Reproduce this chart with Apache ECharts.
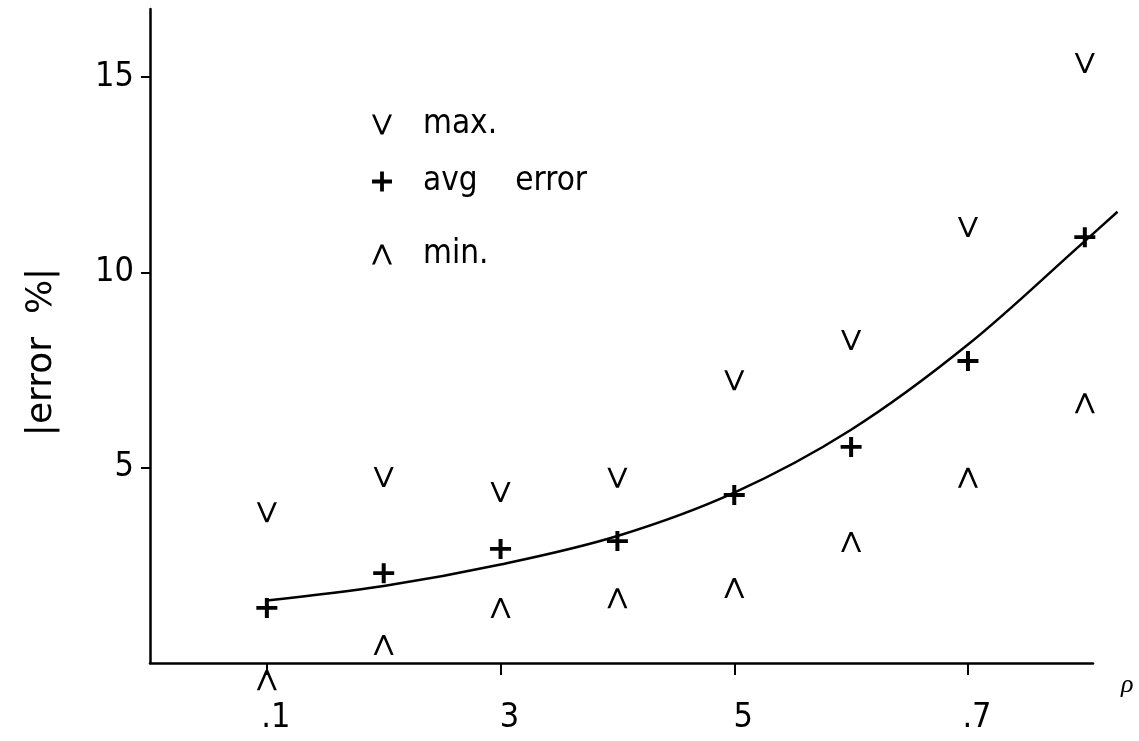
<!DOCTYPE html>
<html>
<head>
<meta charset="utf-8">
<title>|error %| versus rho</title>
<script src="https://cdn.jsdelivr.net/npm/echarts@6/dist/echarts.min.js"></script>
<style>
  html, body { margin: 0; padding: 0; background: #fff; }
  #chart { width: 1139px; height: 741px; }
</style>
</head>
<body>
<div id="chart"></div>
<script>
// rho values at which the error was measured
const rho = [0.1, 0.2, 0.3, 0.4, 0.5, 0.6, 0.7, 0.8];
// |error %| statistics per rho
const maxError = [3.86, 4.76, 4.38, 4.74, 7.24, 8.27, 11.16, 15.36];
const avgError = [1.41, 2.30, 2.92, 3.12, 4.30, 5.53, 7.73, 10.90];
const minError = [-0.44, 0.46, 1.41, 1.66, 1.92, 3.10, 4.74, 6.65];
// fitted trend curve through the averages
const fitRho = [0.1, 0.2, 0.3, 0.4, 0.5, 0.6, 0.7, 0.8, 0.828];
const fitError = [1.60, 1.97, 2.52, 3.25, 4.36, 5.97, 8.15, 10.8, 11.55];
// axis ticks and their printed labels
const yTicks = [5, 10, 15];
const xTicks = [0.1, 0.3, 0.5, 0.7];
const xTickLabels = ['.1', '3', '5', '.7'];

const FONT = '"DejaVu Sans Condensed", "DejaVu Sans", sans-serif';
const SYM_MAX = 'path://M0,0 L2.8,0 L10,16.8 L17.2,0 L20,0 L11.4,20 L8.6,20 Z';
const SYM_MIN = 'path://M0,20 L2.8,20 L10,3.2 L17.2,20 L20,20 L11.4,0 L8.6,0 Z';
const SYM_AVG = 'path://M8.1,0 H11.9 V8.1 H20 V11.9 H11.9 V20 H8.1 V11.9 H0 V8.1 H8.1 Z';

const pairs = (xs, ys) => xs.map((x, i) => [x, ys[i]]);

const legendBase = {
  orient: 'vertical',
  left: 372,
  padding: 0,
  itemWidth: 20,
  itemHeight: 20,
  selectedMode: false,
  itemStyle: { opacity: 1 },
  textStyle: { fontFamily: FONT, fontSize: 33, color: '#000', padding: [0, 0, 0, 26] }
};

const markStyle = { color: '#000', opacity: 1, borderWidth: 0 };

const chart = echarts.init(document.getElementById('chart'), null, { renderer: 'canvas' });
chart.setOption({
  backgroundColor: '#fff',
  animation: false,
  grid: { left: 150, right: 46, top: 9, bottom: 78, outerBoundsMode: 'none', containLabel: false },
  legend: [
    Object.assign({}, legendBase, { top: 108, data: ['max.'] }),
    Object.assign({}, legendBase, { top: 165, data: ['avg    error'] }),
    Object.assign({}, legendBase, { top: 238, data: ['min.'] })
  ],
  xAxis: {
    type: 'value',
    min: 0,
    max: 0.807,
    name: 'ρ',
    nameLocation: 'end',
    nameGap: 28,
    nameTextStyle: {
      fontFamily: '"Liberation Serif", "DejaVu Serif", serif',
      fontStyle: 'italic', fontSize: 26, color: '#000',
      verticalAlign: 'top', align: 'left', padding: [9, 0, 0, 0]
    },
    splitLine: { show: false },
    axisLine: { show: true, lineStyle: { color: '#000', width: 2.5 } },
    axisTick: { show: true, customValues: xTicks, length: 12, lineStyle: { color: '#000', width: 2 } },
    axisLabel: {
      customValues: xTicks,
      margin: 38,
      fontFamily: FONT, fontSize: 34, color: '#000',
      padding: [0, 0, 0, 18],
      formatter: v => {
        const i = xTicks.findIndex(t => Math.abs(t - v) < 1e-6);
        return i >= 0 ? xTickLabels[i] : '';
      }
    }
  },
  yAxis: {
    type: 'value',
    min: 0,
    max: 16.74,
    name: '|error  %|',
    nameLocation: 'middle',
    nameRotate: 90,
    nameGap: 90,
    nameTextStyle: { fontFamily: '"DejaVu Sans", sans-serif', fontSize: 36, color: '#000', padding: [0, 32, 0, 0] },
    splitLine: { show: false },
    axisLine: { show: true, lineStyle: { color: '#000', width: 2.5 } },
    axisTick: { show: true, customValues: yTicks, length: 9, lineStyle: { color: '#000', width: 2 } },
    axisLabel: {
      customValues: yTicks,
      margin: 16,
      fontFamily: FONT, fontSize: 34, color: '#000',
      formatter: v => String(v)
    }
  },
  series: [
    {
      // smooth trend curve; it runs slightly past the end of the rho axis
      name: 'trend',
      type: 'custom',
      data: pairs(fitRho, fitError),
      encode: { x: 0, y: 1 },
      clip: false,
      silent: true,
      z: 1,
      renderItem: (params, api) => {
        if (params.dataIndex !== 0) return null;
        const points = fitRho.map((x, i) => api.coord([x, fitError[i]]));
        return {
          type: 'polyline',
          shape: { points: points, smooth: 0.35 },
          style: { stroke: '#000', lineWidth: 2.5, fill: null }
        };
      }
    },
    {
      name: 'max.',
      type: 'scatter',
      data: pairs(rho, maxError),
      symbol: SYM_MAX,
      symbolSize: [20, 20],
      clip: false,
      itemStyle: markStyle,
      z: 3
    },
    {
      name: 'avg    error',
      type: 'scatter',
      data: pairs(rho, avgError),
      symbol: SYM_AVG,
      symbolSize: [21, 20],
      clip: false,
      itemStyle: markStyle,
      z: 3
    },
    {
      name: 'min.',
      type: 'scatter',
      data: pairs(rho, minError),
      symbol: SYM_MIN,
      symbolSize: [20, 20],
      clip: false,
      itemStyle: markStyle,
      z: 3
    }
  ]
});
</script>
</body>
</html>
